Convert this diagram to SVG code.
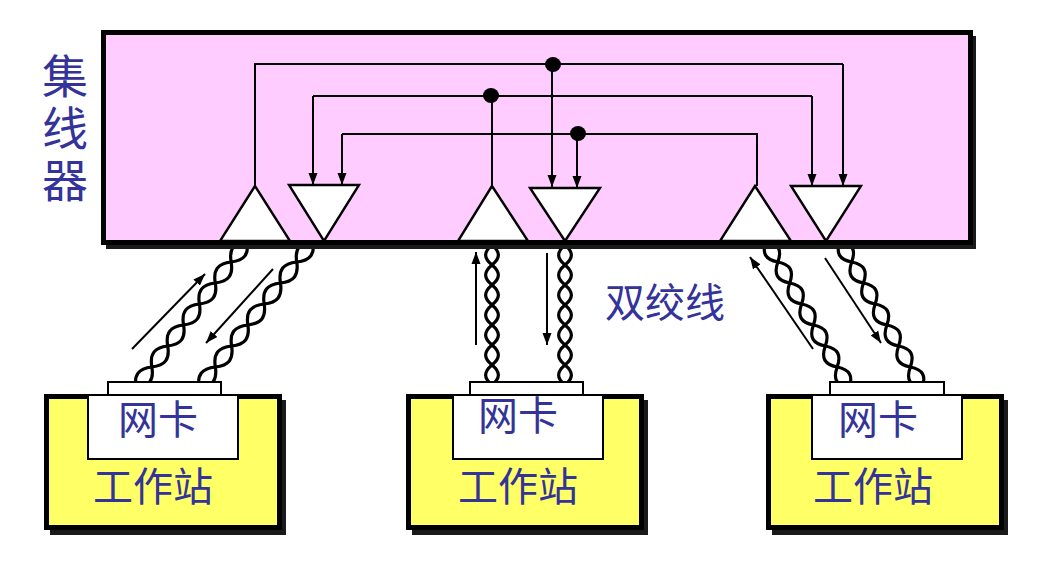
<svg xmlns="http://www.w3.org/2000/svg" width="1053" height="567" viewBox="0 0 1053 567">
<style>
.box{stroke:#000;stroke-width:5}
.shadow{fill:#1a1a1a}
.white{fill:#fff;stroke:#000;stroke-width:2}
.tri{fill:#fff;stroke:#000;stroke-width:2.400}
.wire{fill:none;stroke:#000;stroke-width:2}
.arrow{fill:none;stroke:#000;stroke-width:2;marker-end:url(#head)}
.strand{fill:none;stroke:#000;stroke-width:3.200;vector-effect:non-scaling-stroke}
text{font-family:"Noto Sans CJK SC","Liberation Sans",sans-serif;fill:#333399;font-size:40px}
.big{font-size:46px;writing-mode:vertical-rl;letter-spacing:6px}
</style>
<defs>
<marker id="head" markerUnits="userSpaceOnUse" markerWidth="13" markerHeight="10" refX="12" refY="4.500" orient="auto" viewBox="0 0 13 9"><path d="M0 0L12 4.500L0 9Z" fill="#000"/></marker>
<g id="twist">
<path class="strand" d="M0 0C8.500 7 8.500 13 0 20C-8.500 27 -8.500 33 0 40C8.500 47 8.500 53 0 60C-8.500 67 -8.500 73 0 80C8.500 87 8.500 93 0 100C-8.500 107 -8.500 113 0 120C8.500 127 8.500 133 0 140"/>
<path class="strand" d="M0 0C-8.500 7 -8.500 13 0 20C8.500 27 8.500 33 0 40C-8.500 47 -8.500 53 0 60C8.500 67 8.500 73 0 80C-8.500 87 -8.500 93 0 100C8.500 107 8.500 113 0 120C-8.500 127 -8.500 133 0 140"/>
</g>
</defs>
<rect width="1053" height="567" fill="#fff"/>
<g id="twisted-pairs">
<use href="#twist" transform="matrix(.92 .69 -.793 1.05 247 241)"/>
<use href="#twist" transform="matrix(.92 .69 -.814 1.05 313 241)"/>
<use href="#twist" transform="matrix(1 0 0 1 492 245)"/>
<use href="#twist" transform="matrix(1 0 0 1 565 245)"/>
<use href="#twist" transform="matrix(1 -.565 .593 1.05 766 241)"/>
<use href="#twist" transform="matrix(1 -.565 .586 1.05 840 241)"/>
</g>
<g id="hub">
<rect class="shadow" x="106" y="36" width="870" height="213"/>
<rect class="box" x="103.500" y="32.500" width="867" height="210" fill="#ffccff"/>
</g>
<text id="hub-label" class="big" x="65" y="53">集线器</text>
<g id="connectors">
<path class="wire" d="M255 186V64H843"/>
<path class="arrow" d="M843 64V186"/>
<path class="arrow" d="M552 64V187"/>
<path class="wire" d="M492 186V96"/>
<path class="wire" d="M313 96H812"/>
<path class="arrow" d="M313 96V185"/>
<path class="arrow" d="M812 96V186"/>
<path class="wire" d="M757 186V134H342"/>
<path class="arrow" d="M342 134V185"/>
<path class="arrow" d="M577 134V188"/>
<ellipse cx="553" cy="64.500" rx="8" ry="7.500"/>
<ellipse cx="491" cy="95.500" rx="8" ry="7.500"/>
<ellipse cx="578" cy="133.500" rx="8" ry="7.500"/>
<path class="arrow" d="M132 349L205 274"/>
<path class="arrow" d="M273 269L206 343"/>
<path class="arrow" d="M476 345V252"/>
<path class="arrow" d="M547 253V345"/>
<path class="arrow" d="M813 349L750 257"/>
<path class="arrow" d="M825 258L881 343"/>
</g>
<g id="drivers">
<path class="tri" d="M255 186L220 241H290Z"/>
<path class="tri" d="M289 185H359L324 241Z"/>
<path class="tri" d="M492 186L458 241H528Z"/>
<path class="tri" d="M530 188H600L565 241Z"/>
<path class="tri" d="M755 186L720 241H791Z"/>
<path class="tri" d="M791 186H861L826 241Z"/>
</g>
<g id="station1">
<rect class="shadow" x="50" y="400" width="236" height="135"/>
<rect class="box" x="46.500" y="396.500" width="233" height="131" fill="#ffff66"/>
<rect class="white" x="108" y="382" width="113" height="13"/>
<rect class="white" x="88" y="395" width="150" height="64"/>
<text x="118" y="434">网卡</text>
<text x="93" y="501">工作站</text>
</g>
<g id="station2">
<rect class="shadow" x="412" y="400" width="236" height="135"/>
<rect class="box" x="408.500" y="396.500" width="233" height="131" fill="#ffff66"/>
<rect class="white" x="470" y="382" width="113" height="13"/>
<rect class="white" x="453" y="395" width="150" height="64"/>
<text x="478" y="430">网卡</text>
<text x="458" y="501">工作站</text>
</g>
<g id="station3">
<rect class="shadow" x="772" y="400" width="236" height="135"/>
<rect class="box" x="768.500" y="396.500" width="233" height="131" fill="#ffff66"/>
<rect class="white" x="830" y="382" width="114" height="13"/>
<rect class="white" x="812" y="395" width="150" height="64"/>
<text x="838" y="434">网卡</text>
<text x="813" y="501">工作站</text>
</g>
<text id="label" x="605" y="317">双绞线</text>
</svg>
